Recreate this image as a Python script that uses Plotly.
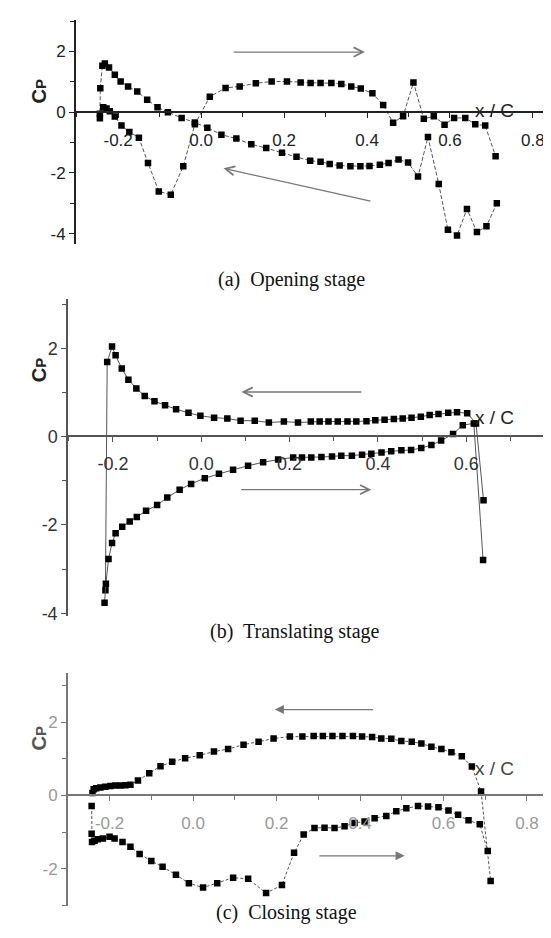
import plotly.graph_objects as go

W, H = 551, 938

# ---------------- data: (a) Opening stage ----------------
a1_x = [-0.244, -0.243, -0.238, -0.232, -0.222, -0.208, -0.194, -0.176, -0.154, -0.130, -0.105, -0.080,
        -0.047, -0.015, 0.015, 0.049, 0.085, 0.121, 0.157, 0.195, 0.230, 0.263, 0.288, 0.310, 0.334,
        0.360, 0.384, 0.406, 0.431, 0.452, 0.476, 0.499, 0.523, 0.547, 0.573, 0.595, 0.617, 0.641,
        0.665, 0.688, 0.713]
a1_y = [-0.20, 0.79, 1.53, 1.60, 1.47, 1.23, 1.01, 0.85, 0.68, 0.41, 0.16, 0.00,
        -0.19, -0.34, -0.51, -0.74, -0.87, -1.06, -1.18, -1.34, -1.47, -1.60, -1.63, -1.71, -1.76,
        -1.78, -1.78, -1.77, -1.73, -1.67, -1.56, -1.66, -2.12, -0.82, -2.37, -3.87, -4.06, -3.19,
        -3.95, -3.76, -3.00]
a2_x = [-0.244, -0.236, -0.228, -0.220, -0.208, -0.192, -0.173, -0.150, -0.128, -0.102, -0.073, -0.043,
        -0.015, 0.021, 0.059, 0.093, 0.132, 0.170, 0.207, 0.240, 0.264, 0.288, 0.314, 0.338, 0.362,
        0.385, 0.413, 0.439, 0.463, 0.487, 0.512, 0.537, 0.561, 0.587, 0.610, 0.637, 0.661, 0.685, 0.710]
a2_y = [-0.05, 0.16, 0.12, 0.03, -0.14, -0.44, -0.65, -0.84, -1.67, -2.61, -2.72, -1.78,
        -0.40, 0.51, 0.80, 0.85, 0.95, 1.01, 1.01, 0.98, 0.96, 0.96, 0.96, 0.93, 0.85,
        0.78, 0.62, 0.24, -0.35, -0.13, 0.98, -0.22, -0.13, -0.41, -0.19, -0.19, -0.40, -0.44, -1.45]

# ---------------- data: (b) Translating stage ----------------
b1_x = [-0.217, -0.213, -0.202, -0.194, -0.180, -0.165, -0.147, -0.128, -0.106, -0.082, -0.057, -0.029,
        -0.002, 0.029, 0.059, 0.089, 0.121, 0.153, 0.187, 0.219, 0.248, 0.268, 0.288, 0.309, 0.331,
        0.351, 0.374, 0.394, 0.415, 0.436, 0.456, 0.476, 0.497, 0.517, 0.537, 0.559, 0.579, 0.602,
        0.622, 0.639]
b1_y = [-3.48, 1.69, 2.04, 1.84, 1.54, 1.29, 1.09, 0.92, 0.80, 0.71, 0.62, 0.54,
        0.47, 0.43, 0.41, 0.36, 0.36, 0.32, 0.34, 0.32, 0.34, 0.34, 0.34, 0.34, 0.34,
        0.34, 0.35, 0.37, 0.38, 0.40, 0.41, 0.43, 0.45, 0.49, 0.51, 0.54, 0.55, 0.53,
        0.30, -1.44]
b2_x = [-0.219, -0.216, -0.210, -0.202, -0.194, -0.179, -0.162, -0.146, -0.125, -0.100, -0.077, -0.049,
        -0.023, 0.008, 0.040, 0.072, 0.106, 0.140, 0.174, 0.208, 0.228, 0.249, 0.272, 0.296, 0.317,
        0.341, 0.364, 0.385, 0.408, 0.430, 0.453, 0.475, 0.498, 0.521, 0.543, 0.570, 0.592, 0.617, 0.638]
b2_y = [-3.76, -3.33, -2.77, -2.41, -2.19, -2.04, -1.92, -1.82, -1.68, -1.55, -1.38, -1.20,
        -1.07, -0.94, -0.84, -0.75, -0.66, -0.58, -0.52, -0.47, -0.47, -0.47, -0.46, -0.45, -0.43,
        -0.43, -0.41, -0.39, -0.36, -0.33, -0.31, -0.30, -0.26, -0.19, -0.09, 0.06, 0.26, 0.30, -2.79]

# ---------------- data: (c) Closing stage ----------------
c1_x = [-0.241, -0.238, -0.232, -0.222, -0.210, -0.198, -0.186, -0.174, -0.162, -0.150, -0.132, -0.105,
        -0.078, -0.050, -0.019, 0.016, 0.050, 0.084, 0.121, 0.157, 0.193, 0.232, 0.262, 0.289, 0.311,
        0.334, 0.358, 0.383, 0.405, 0.429, 0.451, 0.475, 0.499, 0.524, 0.547, 0.571, 0.595, 0.619,
        0.644, 0.668, 0.690, 0.713]
c1_y = [0.07, 0.17, 0.20, 0.22, 0.24, 0.26, 0.27, 0.27, 0.28, 0.29, 0.41, 0.61,
        0.80, 0.92, 1.02, 1.10, 1.20, 1.27, 1.39, 1.47, 1.56, 1.61, 1.61, 1.63, 1.63,
        1.63, 1.63, 1.63, 1.61, 1.60, 1.56, 1.55, 1.49, 1.47, 1.42, 1.33, 1.27, 1.18,
        1.07, 0.79, 0.11, -2.34]
c2_x = [-0.243, -0.243, -0.242, -0.236, -0.228, -0.216, -0.200, -0.188, -0.169, -0.150, -0.128, -0.100,
        -0.073, -0.041, -0.010, 0.024, 0.058, 0.096, 0.132, 0.175, 0.213, 0.242, 0.265, 0.291, 0.315,
        0.339, 0.363, 0.387, 0.411, 0.435, 0.463, 0.487, 0.511, 0.539, 0.563, 0.588, 0.612, 0.635,
        0.660, 0.687, 0.706]
c2_y = [-0.29, -1.05, -1.27, -1.24, -1.20, -1.18, -1.13, -1.18, -1.27, -1.40, -1.60, -1.79,
        -1.95, -2.17, -2.40, -2.52, -2.40, -2.25, -2.28, -2.67, -2.45, -1.57, -1.07, -0.89, -0.88,
        -0.89, -0.84, -0.75, -0.71, -0.62, -0.56, -0.43, -0.35, -0.29, -0.30, -0.32, -0.41, -0.53,
        -0.68, -0.79, -1.52]

x_ticks = [-0.2, 0.0, 0.2, 0.4, 0.6, 0.8]
x_ticktext = ["-0.2", "0.0", "0.2", "0.4", "0.6", "0.8"]
y_ticks = [-4, -2, 0, 2]
y_ticktext = ["-4", "-2", "0", "2"]
captions = ["(a)  Opening stage", "(b)  Translating stage", "(c)  Closing stage"]

# arrows (tail x, tail y, head x, head y) per panel
arrows = [
    [(0.075, 1.98, 0.395, 1.98), (0.412, -2.94, 0.054, -1.85)],
    [(0.366, 1.01, 0.091, 1.01), (0.087, -1.20, 0.385, -1.20)],
    [(0.435, 2.35, 0.196, 2.35), (0.299, -1.65, 0.507, -1.65)],
]

def xp(px):
    return px / W

def yp(py):
    return 1 - py / H

# panel geometry in pixels: left, right, top, bottom, y0 pixel ; ranges
panels = [
    dict(l=67, r=544, t=12, b=238, z=105, xr=[-0.304, 0.846], yr=[-4.35, 3.04],
         tickfont=17, tcol="#222", lcol="#222", lw=2, capy=260, capx=283, cpy=70, xcy=91,
         dash="4px,2px", standoff=7),
    dict(l=59, r=544, t=293, b=613, z=431.7, xr=[-0.304, 0.794], yr=[-4.07, 3.12],
         tickfont=18, tcol="#333", lcol="#555", lw=1.5, capy=642, capx=287, cpy=365, xcy=413,
         dash="solid", standoff=6),
    dict(l=59, r=544, t=670, b=905, z=793.3, xr=[-0.302, 0.860], yr=[-3.03, 3.35],
         tickfont=17, tcol="#999", lcol="#777", lw=2, capy=925, capx=278, cpy=750, xcy=779,
         dash="3px,2px", standoff=7),
]

series = [((a1_x, a1_y), (a2_x, a2_y)), ((b1_x, b1_y), (b2_x, b2_y)), ((c1_x, c1_y), (c2_x, c2_y))]

fig = go.Figure()
annotations = []
layout = {}
for i, (p, ser) in enumerate(zip(panels, series)):
    k = "" if i == 0 else str(i + 1)
    for sx, sy in ser:
        fig.add_trace(go.Scatter(
            x=sx, y=sy, mode="lines+markers", xaxis="x" + k, yaxis="y" + k,
            line=dict(color="#555", width=1, dash=p["dash"]),
            marker=dict(symbol="square", size=6.5, color="black"),
            showlegend=False, hoverinfo="skip"))
    layout["xaxis" + k] = dict(
        domain=[xp(p["l"]), xp(p["r"])], range=p["xr"], anchor="free", position=yp(p["z"]),
        showline=True, linecolor=p["lcol"], linewidth=p["lw"], ticks="outside", ticklen=5,
        tickcolor=p["lcol"], tickwidth=1, tickvals=x_ticks, ticktext=x_ticktext,
        tickfont=dict(family="Liberation Sans, Arial", size=p["tickfont"], color=p["tcol"]),
        ticklabelstandoff=p["standoff"],
        minor=dict(dtick=0.1, tick0=0, ticks="outside", ticklen=4, tickcolor=p["lcol"]),
        showgrid=False, zeroline=False, fixedrange=True)
    layout["yaxis" + k] = dict(
        domain=[yp(p["b"]), yp(p["t"])], range=p["yr"], anchor="free", position=xp(p["l"]),
        showline=True, linecolor=p["lcol"], linewidth=p["lw"], ticks="outside", ticklen=5,
        tickcolor=p["lcol"], tickwidth=1,
        tickvals=y_ticks, ticktext=y_ticktext,
        tickfont=dict(family="Liberation Sans, Arial", size=p["tickfont"], color=p["tcol"]),
        minor=dict(dtick=1, tick0=0, ticks="outside", ticklen=4, tickcolor=p["lcol"]),
        showgrid=False, zeroline=False, fixedrange=True)
    for (tx, ty, hx, hy) in arrows[i]:
        annotations.append(dict(
            x=hx, y=hy, ax=tx, ay=ty, xref="x" + k, yref="y" + k, axref="x" + k, ayref="y" + k,
            text="", showarrow=True, arrowhead=5 if i < 2 else 2, arrowsize=1.4,
            arrowwidth=1.3, arrowcolor="#777"))
    annotations.append(dict(
        x=xp(18), y=yp(p["cpy"]), xref="paper", yref="paper",
        text="<b>C</b><b><span style='font-size:15px'>P</span></b>",
        textangle=-90, showarrow=False,
        font=dict(family="Liberation Sans, Arial", size=20, color="#222" if i < 2 else "#555")))
    annotations.append(dict(
        x=xp(508), y=yp(p["xcy"]), xref="paper", yref="paper", text="x / C",
        showarrow=False, font=dict(family="Liberation Sans, Arial", size=19,
                                   color="#222" if i < 2 else "#444")))
    annotations.append(dict(
        x=xp(p["capx"]), y=yp(p["capy"]), xref="paper", yref="paper", text=captions[i],
        showarrow=False, font=dict(family="Liberation Serif, Times New Roman", size=20, color="#111")))

fig.update_layout(
    width=W, height=H, margin=dict(l=0, r=0, t=0, b=0),
    paper_bgcolor="white", plot_bgcolor="white",
    annotations=annotations, **layout)

fig.write_html("out.html")
